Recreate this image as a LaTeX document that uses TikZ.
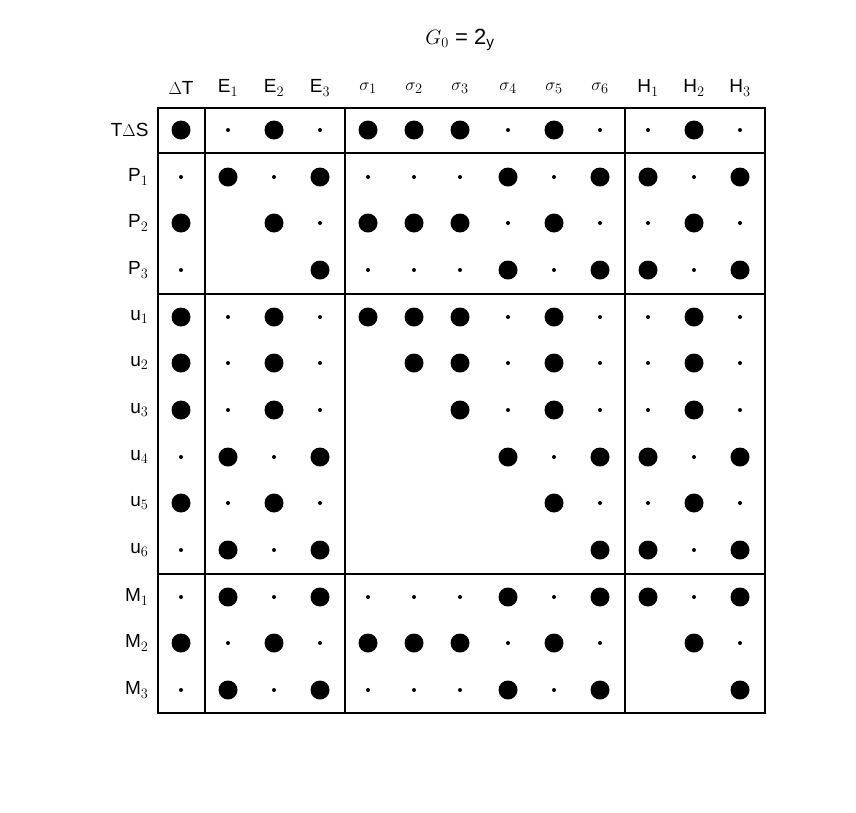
\documentclass[tikz,border=0pt]{standalone}
\usepackage{fontspec}
\setmainfont{Liberation Sans}
\begin{document}
\begin{tikzpicture}[x=1pt,y=-1pt,
  big/.style={circle,fill=black,inner sep=0pt,minimum size=19pt},
  sml/.style={circle,fill=black,inner sep=0pt,minimum size=4pt},
  lbl/.style={font=\fontsize{19}{19}\selectfont},
  sep/.style={line width=2.2pt}]
\useasboundingbox (0,0) rectangle (856,812);
\node[lbl,font=\fontsize{22}{22}\selectfont] (title) at (460,40) {$G_0$ = 2$_\mathrm{y}$};
\def\cols{{181,228,274,320,368,414,460,508,554,600,648,694,740}}
\def\rows{{130,177,223,270,317,363,410,457,503,550,597,643,690}}
\foreach \t [count=\i from 0] in {$\Delta$T,E$_1$,E$_2$,E$_3$,$\sigma_1$,$\sigma_2$,$\sigma_3$,$\sigma_4$,$\sigma_5$,$\sigma_6$,H$_1$,H$_2$,H$_3$}
  \node[lbl] (c\i) at ({\cols[\i]},88) {\t};
\foreach \t [count=\i from 0] in {T$\Delta$S,P$_1$,P$_2$,P$_3$,u$_1$,u$_2$,u$_3$,u$_4$,u$_5$,u$_6$,M$_1$,M$_2$,M$_3$}
  \node[lbl,anchor=east] (r\i) at (152,{\rows[\i]}) {\t};
\foreach \line [count=\r from 0] in {
 {B,s,B,s,B,B,B,s,B,s,s,B,s},
 {s,B,s,B,s,s,s,B,s,B,B,s,B},
 {B,-,B,s,B,B,B,s,B,s,s,B,s},
 {s,-,-,B,s,s,s,B,s,B,B,s,B},
 {B,s,B,s,B,B,B,s,B,s,s,B,s},
 {B,s,B,s,-,B,B,s,B,s,s,B,s},
 {B,s,B,s,-,-,B,s,B,s,s,B,s},
 {s,B,s,B,-,-,-,B,s,B,B,s,B},
 {B,s,B,s,-,-,-,-,B,s,s,B,s},
 {s,B,s,B,-,-,-,-,-,B,B,s,B},
 {s,B,s,B,s,s,s,B,s,B,B,s,B},
 {B,s,B,s,B,B,B,s,B,s,-,B,s},
 {s,B,s,B,s,s,s,B,s,B,-,-,B}}{
  \foreach \ch [count=\c from 0] in \line {
    \if\ch B\node[big] (d\r-\c) at ({\cols[\c]},{\rows[\r]}) {};\fi
    \if\ch s\node[sml] (d\r-\c) at ({\cols[\c]},{\rows[\r]}) {};\fi
  }}
\draw[sep] (158,108) rectangle (765,713);
\foreach \x in {205,345,625} \draw[sep] (\x,108) -- (\x,713);
\foreach \y in {153,294,574} \draw[sep] (158,\y) -- (765,\y);
\end{tikzpicture}
\end{document}
